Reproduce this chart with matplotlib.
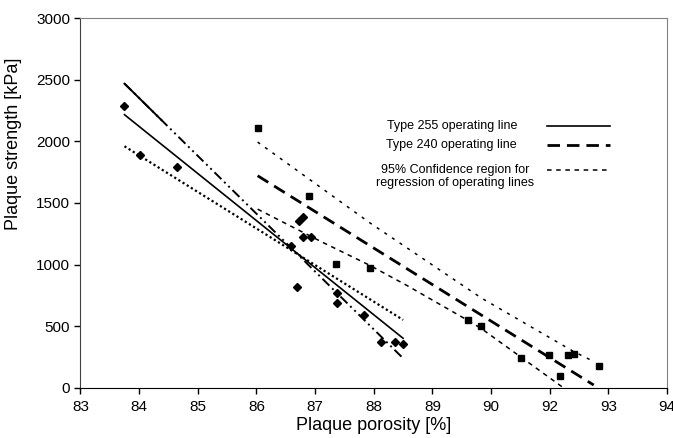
import numpy as np
import matplotlib.pyplot as plt

plt.rcParams['font.family'] = ['Liberation Sans', 'DejaVu Sans']

# Type 255 plaques (diamonds)
por_255 = [83.75, 84.02, 84.64, 86.59, 86.69, 86.73, 86.79, 86.79, 86.93,
           87.37, 87.37, 87.84, 88.12, 88.36, 88.50]
str_255 = [2290, 1890, 1795, 1155, 815, 1355, 1385, 1225, 1225,
           770, 690, 590, 375, 370, 355]

# Type 240 plaques (squares)
por_240 = [86.02, 86.89, 87.36, 87.93, 89.60, 89.83, 90.51, 90.98,
           91.17, 91.32, 91.41, 91.84]
str_240 = [2110, 1555, 1005, 975, 550, 505, 240, 270,
           100, 265, 275, 180]

# operating lines and 95% confidence limits
fit255_x = [83.75, 88.50]
fit255_y = [2216, 403]
ci255a_x = [83.75, 88.50]
ci255a_y = [2468, 241]
ci255b_x = [83.75, 88.50]
ci255b_y = [1960, 552]

fit240_x = [86.02, 91.75]
fit240_y = [1721, 24]
ci240u_x = [86.02, 87.94, 89.84, 91.41, 91.75]
ci240u_y = [1994, 1337, 728, 295, 215]
ci240l_x = [86.02, 87.09, 87.93, 88.57, 89.59, 89.84, 91.21]
ci240l_y = [1450, 1190, 995, 830, 552, 480, 10]

# x tick labels as printed on the original (91 is skipped)
xtick_pos = list(range(83, 94))
xtick_lab = ['83', '84', '85', '86', '87', '88', '89', '90', '92', '93', '94']
ytick_pos = list(range(0, 3001, 500))

fig = plt.figure(figsize=(6.73, 4.38), dpi=100)
ax = fig.add_axes([0.1196, 0.1142, 0.8715, 0.8447])

ax.plot(fit255_x, fit255_y, color='black', lw=1.2, ls='-')
ax.plot(ci255a_x, ci255a_y, color='black', lw=1.4, ls=(0, (5, 2, 1, 2, 1, 2)))
# first part of that limit is drawn solid in the original
x_solid = [ci255a_x[0], 84.38]
ax.plot(x_solid, np.interp(x_solid, ci255a_x, ci255a_y), color='black', lw=1.4)
ax.plot(ci255b_x, ci255b_y, color='black', lw=1.6, ls=(0, (1, 1.2)))

ax.plot(fit240_x, fit240_y, color='black', lw=2.0, ls=(0, (4.5, 2.5)))
ax.plot(ci240u_x, ci240u_y, color='black', lw=1.1, ls=(0, (2, 4)))
ax.plot(ci240l_x, ci240l_y, color='black', lw=1.1, ls=(0, (3, 3)))

ax.plot(por_255, str_255, ls='none', marker='D', ms=4, color='black')
ax.plot(por_240, str_240, ls='none', marker='s', ms=5, color='black')

ax.set_xlim(83, 93)
ax.set_ylim(0, 3000)
ax.set_xticks(xtick_pos)
ax.set_xticklabels(xtick_lab)
ax.set_yticks(ytick_pos)
ax.tick_params(labelsize=11, direction='out', length=4, width=1, colors='black')
ax.tick_params(axis='x', pad=5)

for s in ['left', 'right', 'top']:
    ax.spines[s].set_color('#808080')
ax.spines['bottom'].set_color('black')
ax.spines['left'].set_color('#404040')

ax.set_xlabel('Plaque porosity [%]', fontsize=13, labelpad=2)
ax.set_ylabel('Plaque strength [kPa]', fontsize=13)
ax.yaxis.set_label_coords(-0.1, 0.66)

# hand-made legend
tx = 0.633
ax.text(tx, 0.708, 'Type 255 operating line', transform=ax.transAxes,
        ha='center', va='center', fontsize=9)
ax.text(tx, 0.657, 'Type 240 operating line', transform=ax.transAxes,
        ha='center', va='center', fontsize=9)
ax.text(tx + 0.005, 0.572, '95% Confidence region for\nregression of operating lines',
        transform=ax.transAxes, ha='center', va='center', fontsize=9,
        linespacing=1.1)
ax.plot([0.795, 0.903], [0.708, 0.708], transform=ax.transAxes,
        color='black', lw=1.2)
ax.plot([0.795, 0.903], [0.657, 0.657], transform=ax.transAxes,
        color='black', lw=2.0, ls=(0, (4.5, 2.5)))
ax.plot([0.795, 0.903], [0.589, 0.589], transform=ax.transAxes,
        color='black', lw=1.1, ls=(0, (3, 3)))

fig.savefig('out.png', dpi=100)
